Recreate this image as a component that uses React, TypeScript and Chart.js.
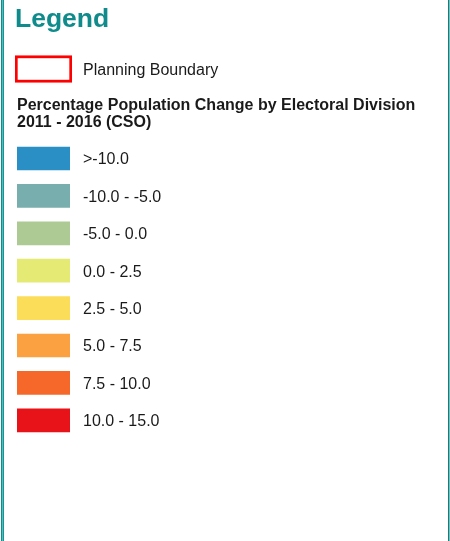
import React, { useEffect, useRef } from 'react';
import { Chart, registerables } from 'chart.js';

Chart.register(...registerables);

// ---- data ----
const legendTitle = 'Legend';
const boundaryLabels = ['Planning Boundary'];
const boundaryValues = [1];
const headingLines = ['Percentage Population Change by Electoral Division', '2011 - 2016 (CSO)'];
const classLabels = ['>-10.0', '-10.0 - -5.0', '-5.0 - 0.0', '0.0 - 2.5', '2.5 - 5.0', '5.0 - 7.5', '7.5 - 10.0', '10.0 - 15.0'];
const classValues = [1, 1, 1, 1, 1, 1, 1, 1];
const classColors = ['#2a8fc5', '#78aead', '#adca95', '#e5ea74', '#fcdd5a', '#fca142', '#f66829', '#e81219'];

const FONT = '"Liberation Sans", Arial, Helvetica, sans-serif';
const TEXT = '#1a1a1a';

function makeBoundaryConfig(): any {
  return {
    type: 'bar',
    data: {
      labels: boundaryLabels,
      datasets: [{
        data: boundaryValues,
        backgroundColor: '#ffffff',
        borderColor: '#ff0000',
        borderWidth: 3,
        borderSkipped: false,
        barThickness: 27,
      }],
    },
    options: {
      indexAxis: 'y',
      responsive: false,
      animation: false,
      devicePixelRatio: 1,
      events: [],
      layout: { padding: { left: 15, right: 0, top: 0, bottom: 0 } },
      plugins: {
        legend: { display: false },
        tooltip: { enabled: false },
        title: {
          display: true,
          text: legendTitle,
          align: 'start',
          color: '#0f8b8b',
          font: { family: FONT, size: 26.5, weight: 'bold', lineHeight: 1.2 },
          padding: { top: 3.8, bottom: 8 },
        },
      },
      scales: {
        x: { display: false, min: 0, max: 1 },
        y: {
          position: 'right',
          grid: { display: false, drawTicks: false },
          border: { display: false },
          ticks: { padding: 11, color: TEXT, font: { family: FONT, size: 16 }, labelOffset: 1.5, autoSkip: false },
          afterFit: (s: any) => { s.width = 378; },
        },
      },
    },
  };
}

function makeClassConfig(): any {
  return {
    type: 'bar',
    data: {
      labels: classLabels,
      datasets: [{
        data: classValues,
        backgroundColor: classColors,
        borderWidth: 0,
        barThickness: 23,
      }],
    },
    options: {
      indexAxis: 'y',
      responsive: false,
      animation: false,
      devicePixelRatio: 1,
      events: [],
      layout: { padding: { left: 17, right: 0, top: 0, bottom: 102 } },
      plugins: {
        legend: { display: false },
        tooltip: { enabled: false },
        title: {
          display: true,
          text: headingLines,
          align: 'start',
          color: TEXT,
          font: { family: FONT, size: 16, weight: 'bold', lineHeight: 1.025 },
          padding: { top: 2.6, bottom: 9.4 },
        },
      },
      scales: {
        x: { display: false, min: 0, max: 1 },
        y: {
          position: 'right',
          grid: { display: false, drawTicks: false },
          border: { display: false },
          ticks: { padding: 13, color: TEXT, font: { family: FONT, size: 16 }, labelOffset: 1.5, autoSkip: false },
          afterFit: (s: any) => { s.width = 380; },
        },
      },
    },
  };
}

export default function App() {
  const topRef = useRef<HTMLCanvasElement | null>(null);
  const bottomRef = useRef<HTMLCanvasElement | null>(null);

  useEffect(() => {
    const charts: Chart[] = [];
    if (topRef.current) charts.push(new Chart(topRef.current, makeBoundaryConfig()));
    if (bottomRef.current) charts.push(new Chart(bottomRef.current, makeClassConfig()));
    return () => { charts.forEach((c) => c.destroy()); };
  }, []);

  return (
    <div style={{ position: 'absolute', left: 0, top: 0, width: 450, height: 541, background: '#ffffff', overflow: 'hidden' }}>
      <canvas ref={topRef} width={450} height={115} style={{ display: 'block', position: 'absolute', left: 0, top: 0 }} />
      <canvas ref={bottomRef} width={450} height={446} style={{ display: 'block', position: 'absolute', left: 0, top: 95 }} />
      <div style={{ position: 'absolute', left: 1, top: 0, width: 1, height: 541, background: '#118c8c' }} />
      <div style={{ position: 'absolute', left: 2, top: 0, width: 1, height: 541, background: '#55bcbc' }} />
      <div style={{ position: 'absolute', left: 3, top: 0, width: 1, height: 541, background: '#139797' }} />
      <div style={{ position: 'absolute', left: 448, top: 0, width: 1, height: 541, background: '#0f8080' }} />
      <div style={{ position: 'absolute', left: 449, top: 0, width: 1, height: 541, background: '#7fbfbf' }} />
    </div>
  );
}
